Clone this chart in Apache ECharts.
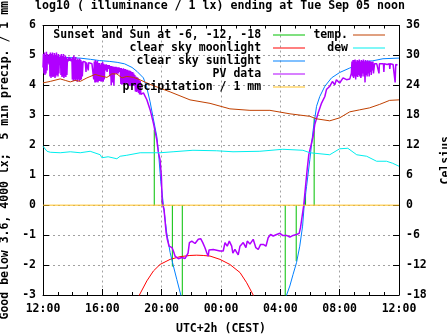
<!DOCTYPE html>
<html><head><meta charset="utf-8">
<script src="https://cdn.jsdelivr.net/npm/echarts@6/dist/echarts.min.js"></script>
<style>html,body{margin:0;padding:0;background:#fff}#c{width:447px;height:335px}</style>
</head><body><div id="c"></div>
<script>
// ---- data (hours after 12:00 noon) ----
const xTickLabels = ['12:00','16:00','20:00','00:00','04:00','08:00','12:00'];
const leftTickLabels = ['-3','-2','-1','0','1','2','3','4','5','6'];
const rightTickLabels = ['-18','-12','-6','0','6','12','18','24','30','36'];

const sunEventHours = [7.5, 8.03, 8.72, 9.39, 16.33, 17.07, 17.7, 18.28];
const sunEventTops  = [2.52, 0.22, -2.05, -3.2, -3.2, -1.87, 0.4, 2.9];

const moonlight = [[6.4,-3.1],[6.5,-3.0],[7.0,-2.53],[7.44,-2.2],[7.89,-1.98],[8.57,-1.81],[9.24,-1.72],[9.9,-1.68],[10.36,-1.67],[10.8,-1.68],[11.26,-1.7],[11.93,-1.81],[12.6,-1.98],[13.28,-2.25],[13.73,-2.59],[14.17,-3.0],[14.25,-3.1]];

const sunlight = [[0,4.97],[1.2,4.94],[2.5,4.91],[3.2,4.87],[3.8,4.83],[4.5,4.8],[5.0,4.77],[5.5,4.72],[6.0,4.6],[6.33,4.47],[6.77,4.25],[7.0,3.92],[7.22,3.45],[7.44,2.88],[7.67,2.3],[7.78,1.8],[7.94,0.8],[8.12,0],[8.34,-0.92],[8.57,-1.58],[8.79,-2.03],[9.02,-2.48],[9.29,-3.0],[9.4,-3.3],
  ['-','-'],
  [16.3,-3.3],[16.42,-3.0],[16.64,-2.7],[16.86,-2.31],[17.09,-1.92],[17.31,-1.37],[17.5,-0.7],[17.61,0],[17.77,0.63],[17.99,1.52],[18.21,2.5],[18.44,3.3],[18.66,3.63],[19.0,3.97],[19.45,4.25],[20.0,4.43],[20.68,4.58],[21.35,4.72],[21.8,4.8],[22.23,4.82],[22.92,4.89],[23.93,4.91],[24,4.91]];

const pvData = [
  [0,4.6],[0.03,5.05],[0.07,4.4],[0.1,5.1],[0.13,4.35],[0.17,5.0],[0.2,4.4],[0.23,5.12],[0.27,4.5],
  [0.3,5.05],[0.33,4.75],[0.37,5.0],[0.4,4.7],[0.44,5.05],
  [0.47,4.3],[0.5,5.1],[0.54,4.25],[0.57,5.05],[0.61,4.3],[0.64,5.1],[0.67,4.28],[0.71,5.0],[0.74,4.3],[0.77,5.08],[0.81,4.25],[0.84,5.02],[0.87,4.3],[0.91,5.1],[0.94,4.35],[0.97,5.0],[1.01,4.3],[1.04,5.05],[1.07,4.4],[1.11,4.95],[1.14,4.7],[1.18,5.0],[1.21,4.35],[1.24,5.05],[1.28,4.28],[1.31,4.98],[1.34,4.3],[1.38,5.05],[1.41,4.25],[1.44,4.95],[1.48,4.3],[1.51,5.0],[1.54,4.28],[1.58,4.95],[1.61,4.35],[1.65,4.9],
  [1.7,4.8],[1.75,4.95],[1.8,4.82],[1.85,4.92],[1.9,4.8],[1.95,4.9],
  [1.98,4.2],[2.01,4.95],[2.05,4.15],[2.08,5.0],[2.11,4.2],[2.15,4.9],[2.18,4.15],[2.21,4.95],[2.25,4.2],[2.28,4.85],[2.31,4.12],[2.35,4.9],[2.38,4.2],[2.41,4.85],[2.45,4.15],[2.48,4.9],[2.51,4.18],[2.55,4.85],[2.58,4.2],[2.61,4.8],[2.65,4.3],[2.7,4.8],
  [2.78,4.75],[2.85,4.78],[2.9,4.45],[2.93,4.77],[3.0,4.76],[3.05,4.5],[3.08,4.76],[3.2,4.74],[3.3,4.72],[3.38,4.73],
  [3.42,4.2],[3.46,4.8],[3.5,4.1],[3.53,4.85],[3.57,4.1],[3.6,4.8],[3.64,4.12],[3.67,4.82],[3.71,4.1],[3.74,4.75],[3.78,4.15],[3.81,4.75],[3.85,4.15],[3.88,4.7],
  [3.92,4.12],[3.95,4.75],[3.99,4.15],[4.02,4.78],[4.06,4.12],[4.09,4.72],[4.13,4.2],[4.17,4.7],[4.22,4.5],[4.27,4.7],[4.32,4.45],[4.37,4.68],[4.42,4.55],[4.47,4.68],[4.52,4.3],[4.56,4.65],[4.6,4.0],[4.63,4.65],[4.68,4.1],[4.72,4.63],[4.78,4.0],[4.82,4.62],
  [4.88,4.4],[4.92,4.62],[4.97,4.38],[5.02,4.6],[5.07,4.4],[5.12,4.6],[5.17,4.45],
  [5.21,4.58],[5.25,4.05],[5.28,4.58],[5.32,4.02],[5.35,4.55],[5.39,4.05],[5.42,4.57],[5.46,4.03],[5.49,4.55],[5.53,4.08],[5.56,4.55],[5.6,4.05],[5.63,4.52],[5.67,4.1],[5.7,4.52],[5.74,4.02],
  [5.77,4.5],[5.81,3.98],[5.84,4.5],[5.88,4.0],[5.91,4.48],[5.95,3.97],[5.98,4.45],[6.02,4.0],[6.05,4.45],[6.09,4.0],[6.12,4.4],[6.16,3.98],
  [6.19,4.35],[6.23,3.8],[6.26,4.3],[6.3,3.78],[6.33,4.28],[6.37,3.8],[6.4,4.25],[6.44,3.75],[6.47,4.2],[6.51,3.7],[6.55,4.15],[6.6,3.7],
  [6.77,3.75],[7.0,3.52],[7.22,3.19],[7.44,2.75],[7.67,2.19],[7.78,1.75],[7.89,1.52],[7.98,0.97],[8.03,0.19],[8.07,0],[8.16,-0.14],[8.23,-0.53],[8.3,-0.92],[8.38,-1.14],[8.5,-1.37],[8.61,-1.37],[8.7,-1.42],[8.79,-1.53],[8.9,-1.7],[9.02,-1.75],[9.13,-1.79],[9.35,-1.75],[9.46,-1.72],[9.58,-1.78],[9.69,-1.75],[9.78,-1.6],[9.87,-1.25],[10.03,-1.2],[10.25,-1.28],[10.47,-1.14],[10.63,-1.12],[10.77,-1.25],[10.92,-1.42],[11.04,-1.59],[11.14,-1.7],[11.19,-1.5],[11.26,-1.48],[11.48,-1.48],[11.93,-1.53],[12.15,-1.53],[12.27,-1.25],[12.42,-1.37],[12.56,-1.2],[12.72,-1.37],[12.8,-1.6],[12.94,-1.48],[13.16,-1.66],[13.28,-1.37],[13.5,-1.25],[13.68,-1.42],[13.77,-1.2],[13.95,-1.3],[14.17,-1.14],[14.35,-1.42],[14.51,-1.48],[14.67,-1.31],[14.85,-1.31],[15.03,-1.37],[15.18,-1.09],[15.34,-0.98],[15.52,-1.03],[15.75,-0.98],[15.97,-0.94],[16.15,-1.01],[16.42,-1.01],[16.64,-1.07],[16.86,-1.01],[17.09,-0.98],[17.27,-0.94],[17.36,-0.75],[17.47,-0.37],[17.58,0],[17.7,0.63],[17.81,1.19],[17.92,1.69],[18.21,2.3],[18.32,2.69],[18.55,3.08],[18.78,3.41],[19.0,3.63],[19.11,3.86],[19.33,3.97],[19.51,4.13],[19.67,4.02],[19.78,4.19],[20.0,4.08],[20.23,4.25],[20.46,4.19],[20.68,4.21],[20.79,4.41],
  [20.83,4.8],[20.87,4.3],[20.9,4.85],[20.94,4.25],[20.97,4.85],[21.01,4.3],[21.04,4.86],[21.08,4.2],[21.11,4.8],[21.15,4.3],[21.18,4.85],[21.22,4.28],[21.25,4.82],[21.29,4.35],[21.32,4.86],[21.36,4.3],[21.39,4.8],[21.43,4.25],[21.46,4.85],[21.5,4.3],[21.53,4.82],[21.57,4.4],[21.6,4.86],[21.64,4.3],[21.67,4.8],[21.71,4.1],[21.74,4.85],[21.78,4.35],[21.81,4.8],[21.85,4.3],[21.88,4.84],[21.92,4.4],[21.95,4.8],[21.99,4.3],[22.02,4.82],[22.06,4.45],[22.09,4.8],[22.13,4.35],[22.16,4.78],[22.2,4.5],[22.24,4.8],[22.28,4.4],
  [22.35,4.72],[22.45,4.7],[22.5,4.72],[22.6,4.72],[22.65,4.4],[22.68,4.72],[22.8,4.7],[22.95,4.72],[22.98,4.45],[23.01,4.72],[23.2,4.7],[23.35,4.72],[23.38,4.55],[23.41,4.72],[23.6,4.7],[23.7,4.72],[23.74,4.1],[23.78,4.7],[23.9,4.68]
];

const precipitation = [[0,0],[24,0]];

// Celsius, right axis
const temperature = [[0,24.5],[0.49,24.8],[1.16,25.3],[1.5,25.0],[1.84,24.7],[2.17,25.0],[2.51,24.8],[2.96,25.5],[3.52,26.2],[3.86,25.9],[4.31,25.6],[4.64,26.3],[4.98,26.3],[5.32,25.5],[5.65,25.8],[6.1,25.6],[6.55,25.1],[7.22,24.2],[8.57,22.7],[9.91,21.1],[11.26,20.4],[12.6,19.3],[13.95,19.0],[15.3,19.0],[16.65,18.3],[17.99,17.8],[18.44,17.3],[19.33,16.9],[20.0,17.5],[20.68,18.7],[21.35,19.1],[22.02,19.5],[22.7,20.2],[23.37,21.0],[24,21.1]];
const dewPoint = [[0,11.8],[0.27,10.8],[0.49,10.6],[1.16,10.5],[1.84,10.7],[2.51,10.5],[3.18,10.8],[3.86,10.1],[3.97,9.5],[4.39,9.7],[4.98,9.3],[5.2,9.8],[5.65,10.0],[6.55,10.5],[7.89,10.5],[8.77,10.7],[10.11,11.0],[11.71,10.9],[12.81,10.7],[14.62,10.8],[16.17,11.2],[17.52,11.0],[17.99,10.5],[19.33,10.1],[20.0,11.3],[20.55,11.4],[21.15,10.1],[21.82,9.8],[22.49,8.8],[23.16,8.8],[23.57,8.4],[24,7.8]];

const names = ['Sunset and Sun at -6, -12, -18','clear sky moonlight','clear sky sunlight','PV data','precipitation / 1 mm','temp.','dew'];
const colors = ['#00c000','#ff0000','#0080ff','#b000ff','#ffc020','#c04000','#00eeee'];

// ---- chart ----
const FONT = 'DejaVu Sans Mono';
const txt = {fontFamily: FONT, fontWeight: 'bold', fontSize: 11.5, color: '#000'};

const sunLines = [];
sunEventHours.forEach((h, i) => { sunLines.push([h, 0], [h, sunEventTops[i]], [h, '-']); });

const chart = echarts.init(document.getElementById('c'), null, {renderer: 'canvas'});
const axisCommon = {
  axisLine: {show: true, onZero: false, lineStyle: {color: '#000', width: 1}},
  axisTick: {show: true, inside: true, length: 6, lineStyle: {color: '#000'}},
};
const mk = (i, data, extra) => Object.assign({
  name: names[i], type: 'line', data: data, showSymbol: false, symbol: 'none',
  lineStyle: {color: colors[i], width: 1}, itemStyle: {color: colors[i]},
  animation: false, clip: true
}, extra || {});

chart.setOption({
  animation: false,
  backgroundColor: '#fff',
  title: {text: 'log10 ( illuminance / 1 lx) ending at Tue Sep 05 noon', left: 35, top: -1, padding: 0,
    textStyle: Object.assign({}, txt, {fontSize: 11.6, lineHeight: 13})},
  grid: {left: 43, right: 48, top: 25.5, bottom: 40, containLabel: false, outerBoundsMode: 'none'},
  legend: [
    {data: names.slice(0, 5), orient: 'vertical', align: 'right', right: 142, top: 28.5, padding: 0,
     itemWidth: 32, itemHeight: 1, itemGap: 0, icon: 'rect', formatter: n => n + ' ',
     textStyle: Object.assign({}, txt, {lineHeight: 13}), selectedMode: false},
    {data: names.slice(5), orient: 'vertical', align: 'right', right: 62, top: 28.5, padding: 0,
     itemWidth: 32, itemHeight: 1, itemGap: 0, icon: 'rect',
     textStyle: Object.assign({}, txt, {lineHeight: 13}), selectedMode: false}
  ],
  xAxis: [
    Object.assign({type: 'value', min: 0, max: 24, interval: 4, position: 'bottom',
      name: 'UTC+2h (CEST)', nameLocation: 'middle', nameGap: 28.5, nameTextStyle: txt,
      axisLabel: Object.assign({}, txt, {margin: 8, formatter: v => xTickLabels[Math.round(v / 4)]}),
      minorTick: {show: true, splitNumber: 4, length: 3, lineStyle: {color: '#000'}},
      splitLine: {show: true, lineStyle: {color: '#a0a0a0', type: [2, 3], width: 1}}}, axisCommon),
    Object.assign({type: 'value', min: 0, max: 24, interval: 4, position: 'top',
      axisLabel: {show: false},
      minorTick: {show: true, splitNumber: 4, length: 3, lineStyle: {color: '#000'}},
      splitLine: {show: false}}, axisCommon)
  ],
  yAxis: [
    Object.assign({type: 'value', min: -3, max: 6, interval: 1, position: 'left',
      name: 'Good below 3.6, 4000 lx;  5 min precip. / 1 mm', nameLocation: 'middle', nameRotate: 90, nameGap: 29,
      nameTextStyle: txt,
      axisLabel: Object.assign({}, txt, {margin: 7, formatter: v => leftTickLabels[Math.round(v + 3)]}),
      splitLine: {show: true, lineStyle: {color: '#a0a0a0', type: [2, 3], width: 1}}}, axisCommon),
    Object.assign({type: 'value', min: -18, max: 36, interval: 6, position: 'right',
      name: 'Celsius', nameLocation: 'middle', nameRotate: 90, nameGap: 41, nameTextStyle: txt,
      axisLabel: Object.assign({}, txt, {margin: 7, formatter: v => rightTickLabels[Math.round((v + 18) / 6)]}),
      splitLine: {show: false}}, axisCommon)
  ],
  series: [
    mk(0, sunLines, {connectNulls: false}),
    mk(1, moonlight),
    mk(2, sunlight, {connectNulls: false}),
    mk(3, pvData, {lineStyle: {color: colors[3], width: 1.5}}),
    mk(4, precipitation),
    mk(5, temperature, {yAxisIndex: 1}),
    mk(6, dewPoint, {yAxisIndex: 1})
  ]
});
</script></body></html>
